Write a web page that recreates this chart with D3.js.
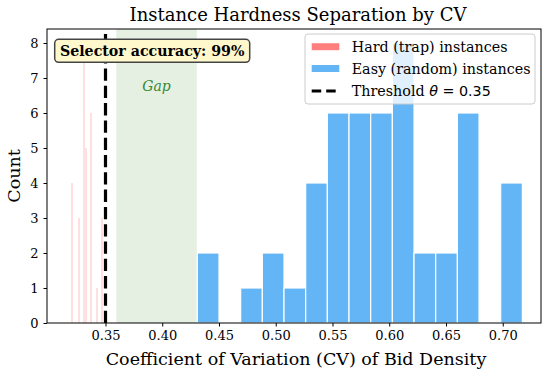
<!DOCTYPE html>
<html><head><meta charset="utf-8">
<script src="https://cdn.jsdelivr.net/npm/d3@7"></script>
<style>body{margin:0;background:#fff}svg{display:block}text{font-family:"DejaVu Serif",serif}</style>
</head><body>
<script>
// ---- data ----
const easyBinStart = 0.4309;
const easyBinWidth = 0.019093;
const easyCounts = [2, 0, 1, 2, 1, 4, 6, 6, 6, 8, 2, 2, 6, 0, 4];
const hardBinCenters = [0.3203, 0.3264, 0.3307, 0.3325, 0.3370, 0.3429, 0.3467];
const hardCounts = [4, 3, 8, 5, 6, 1, 3];
const threshold = 0.35;
const gapRange = [0.3595, 0.4305];
const xTicks = [0.35, 0.40, 0.45, 0.50, 0.55, 0.60, 0.65, 0.70];
const yTicks = [0, 1, 2, 3, 4, 5, 6, 7, 8];
const legendLabels = ["Hard (trap) instances", "Easy (random) instances", "Threshold"];
const accuracyText = "Selector accuracy: 99%";

const W = 549, H = 377;
const m = {l: 47, r: 8, t: 29, b: 54};
const svg = d3.select("body").append("svg").attr("width", W).attr("height", H);
const x = d3.scaleLinear().domain([0.29846, 0.7337]).range([m.l, W - m.r]);
const y = d3.scaleLinear().domain([0, 8.4]).range([H - m.b, m.t]);

// gap
svg.append("rect").attr("x", x(gapRange[0])).attr("y", m.t)
  .attr("width", x(gapRange[1]) - x(gapRange[0])).attr("height", y(0) - m.t)
  .attr("fill", "#e5f0e3");
svg.append("text").attr("x", (x(gapRange[0]) + x(gapRange[1])) / 2).attr("y", 91)
  .attr("text-anchor", "middle").attr("font-style", "italic").attr("font-size", 14)
  .attr("fill", "#368a3a").text("Gap");

// easy bars
const easy = easyCounts.map((c, i) => ({x0: easyBinStart + i * easyBinWidth, c}));
svg.append("g").selectAll("rect").data(easy.filter(d => d.c > 0)).join("rect")
  .attr("x", d => x(d.x0)).attr("width", d => x(d.x0 + easyBinWidth) - x(d.x0))
  .attr("y", d => y(d.c)).attr("height", d => y(0) - y(d.c))
  .attr("fill", "#64b5f6").attr("stroke", "#fff").attr("stroke-width", 1.2);

// hard bars (thin)
const hard = hardBinCenters.map((v, i) => ({v, c: hardCounts[i]}));
svg.append("g").selectAll("rect").data(hard).join("rect")
  .attr("x", d => Math.round(x(d.v)) - 0.5).attr("width", 1)
  .attr("y", d => y(d.c)).attr("height", d => y(0) - y(d.c))
  .attr("fill", "#ff8a8a").attr("opacity", 0.55);

// threshold
svg.append("line").attr("x1", x(threshold)).attr("x2", x(threshold))
  .attr("y1", y(0)).attr("y2", m.t)
  .attr("stroke", "#000").attr("stroke-width", 3.2).attr("stroke-dasharray", "12.3,5");

// frame
svg.append("rect").attr("x", m.l).attr("y", m.t).attr("width", W - m.r - m.l)
  .attr("height", y(0) - m.t).attr("fill", "none").attr("stroke", "#000").attr("stroke-width", 1);

// axes
const xa = svg.append("g").attr("transform", `translate(0,${y(0)})`)
  .call(d3.axisBottom(x).tickValues(xTicks).tickFormat(d3.format(".2f")).tickSize(3.5).tickPadding(4));
const ya = svg.append("g").attr("transform", `translate(${m.l},0)`)
  .call(d3.axisLeft(y).tickValues(yTicks).tickSize(3.5).tickPadding(5));
[xa, ya].forEach(g => {
  g.select(".domain").remove();
  g.selectAll("text").attr("font-family", "DejaVu Serif").attr("font-size", 13).attr("fill", "#000");
  g.selectAll("line").attr("stroke", "#000");
});

// labels
svg.append("text").attr("x", (m.l + W - m.r) / 2 + 2).attr("y", 365).attr("text-anchor", "middle")
  .attr("font-size", 17.5).text("Coefficient of Variation (CV) of Bid Density");
svg.append("text").attr("transform", `translate(19.5,${(m.t + y(0)) / 2}) rotate(-90)`)
  .attr("text-anchor", "middle").attr("font-size", 17.5).text("Count");
svg.append("text").attr("x", (m.l + W - m.r) / 2 + 4).attr("y", 20.5).attr("text-anchor", "middle")
  .attr("font-size", 18).text("Instance Hardness Separation by CV");

// selector box
svg.append("rect").attr("x", 54.7).attr("y", 39.3).attr("width", 195).attr("height", 23)
  .attr("rx", 4).attr("fill", "#fff8cc").attr("stroke", "#444").attr("stroke-width", 1.5);
svg.append("text").attr("x", 152.2).attr("y", 56).attr("text-anchor", "middle")
  .attr("font-weight", "bold").attr("font-size", 14.2).text(accuracyText);

// legend
const lg = svg.append("g");
lg.append("rect").attr("x", 305).attr("y", 34).attr("width", 230).attr("height", 70)
  .attr("rx", 3).attr("fill", "#fff").attr("fill-opacity", 0.8).attr("stroke", "#ccc");
const rows = [46.7, 68.5, 91];
lg.append("rect").attr("x", 311.7).attr("y", rows[0] - 3.5).attr("width", 27.6).attr("height", 7).attr("fill", "#ff7f7f");
lg.append("rect").attr("x", 311.7).attr("y", rows[1] - 3.5).attr("width", 27.6).attr("height", 7).attr("fill", "#64b5f6");
lg.append("line").attr("x1", 311.7).attr("x2", 339.3).attr("y1", rows[2]).attr("y2", rows[2])
  .attr("stroke", "#000").attr("stroke-width", 3.2).attr("stroke-dasharray", "9.5,5");
lg.append("text").attr("x", 351.7).attr("y", rows[0] + 5).attr("font-size", 14.3).text(legendLabels[0]);
lg.append("text").attr("x", 351.7).attr("y", rows[1] + 5).attr("font-size", 14.3).text(legendLabels[1]);
const t3 = lg.append("text").attr("x", 351.7).attr("y", rows[2] + 5).attr("font-size", 14.3);
t3.append("tspan").text(legendLabels[2] + " ");
t3.append("tspan").attr("font-family", "DejaVu Sans").attr("font-style", "italic").text("θ");
t3.append("tspan").attr("font-family", "DejaVu Sans").text(" = " + threshold.toFixed(2));
</script>
</body></html>
